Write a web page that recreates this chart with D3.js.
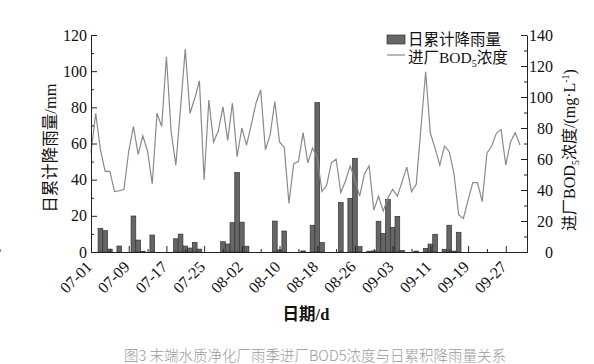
<!DOCTYPE html>
<html>
<head>
<meta charset="utf-8">
<script src="https://cdn.jsdelivr.net/npm/d3@7"></script>
<style>
	body { margin: 0; background: #fff; overflow: hidden; }
	svg { display: block; }
	svg text { font-family: "Liberation Serif", "Noto Sans CJK SC", serif; fill: #111; }
</style>
</head>
<body>
<div id="chart"></div>
<script>
'use strict';

// daily values from 07-01 to 09-30
var startDay = '2020-07-01';
var tickLabels = ['07-01', '07-09', '07-17', '07-25', '08-02', '08-10',
	'08-18', '08-26', '09-03', '09-11', '09-19', '09-27'];
var rainTicks = [0, 20, 40, 60, 80, 100, 120];
var bodTicks = [0, 20, 40, 60, 80, 100, 120, 140];

// 日累计降雨量 (mm)
var rainfall = [0, 0, 13.1, 11.8, 1.6, 0, 3.3, 0, 0, 19.9,
	6.6, 0.4, 0, 9.4, 0, 0, 0, 0, 7.3, 9.9,
	3.3, 2.2, 5.3, 1.6, 0, 0, 0, 0, 5.7, 4.4,
	16.2, 44, 16.5, 3.2, 0, 0, 0, 0, 0, 17.1,
	1.2, 11.6, 0, 0, 0, 0.6, 0, 14.8, 82.6, 5.2,
	0, 0, 0, 27.3, 0, 29.7, 51.8, 3, 0, 0.4,
	0.6, 17, 10.2, 29, 13.6, 19.7, 0.8, 0, 0, 0.5,
	0, 2, 4.4, 9.8, 0, 1.5, 14.8, 0.5, 10.9, 0,
	0, 0, 0, 0, 0, 0, 0, 0, 0, 0,
	0, 0];

// 进厂BOD5浓度 (mg/L)
var bod = [64, 89.5, 66, 52, 52, 39, 39.5, 40.5, 65, 81,
	63, 75, 65, 44, 89.5, 81, 126, 77.6, 56, 93,
	131, 89.5, 99, 110.5, 46.5, 98, 71, 78, 93.7, 72,
	96, 61.5, 80, 69, 82, 96, 104.5, 66, 75.5, 97,
	71, 67.5, 31.4, 57, 58.3, 77, 57.5, 67, 61, 39,
	43, 57.6, 60, 38.3, 46, 55.5, 46.5, 36, 50.3, 55.5,
	27, 36, 26.5, 35, 40.4, 36, 45.4, 54.8, 39, 43.7,
	80, 116.3, 76.6, 67, 56, 68.4, 64.7, 50.8, 24, 21.7,
	33.5, 44.7, 44.7, 32.5, 63.7, 68.4, 76.6, 79, 56, 71,
	77, 69];

InitChart();

function InitChart() {
	// constants
	var WIDTH = 594,
		HEIGHT = 364,
		LEFT = 91,
		RIGHT = 527,
		TOP = 35,
		BOTTOM = 252;

	var t0 = d3.utcParse('%Y-%m-%d')(startDay);
	var dates = bod.map(function(d, i) { return d3.utcDay.offset(t0, i); });

	var x = d3.scaleUtc()
		.domain([t0, d3.utcHour.offset(t0, 92.5 * 24)])
		.range([LEFT, RIGHT]);
	var yRain = d3.scaleLinear().domain([0, 120]).range([BOTTOM, TOP]);
	var yBod = d3.scaleLinear().domain([0, 140]).range([BOTTOM, TOP]);

	var svg = d3.select('#chart').append('svg')
		.attr('width', WIDTH)
		.attr('height', HEIGHT);

	// rain bars
	var bw = x(dates[1]) - x(dates[0]);
	svg.append('g')
		.selectAll('rect')
		.data(rainfall.map(function(v, i) { return { date: dates[i], value: v }; })
			.filter(function(d) { return d.value > 0; }))
		.enter().append('rect')
			.attr('x', function(d) { return x(d.date) - bw / 2; })
			.attr('y', function(d) { return yRain(d.value); })
			.attr('width', bw)
			.attr('height', function(d) { return yRain(0) - yRain(d.value); })
			.attr('fill', '#666')
			.attr('stroke', '#333')
			.attr('stroke-width', 0.7);

	// BOD line
	var line = d3.line()
		.x(function(d, i) { return x(dates[i]); })
		.y(function(d) { return yBod(d); });

	svg.append('path')
		.datum(bod)
		.attr('d', line)
		.attr('fill', 'none')
		.attr('stroke', '#8a8a8a')
		.attr('stroke-width', 1.2);

	// left axis
	svg.append('g')
		.attr('transform', 'translate(' + LEFT + ',0)')
		.call(d3.axisLeft(yRain).tickValues(rainTicks)
			.tickSizeInner(-6).tickSizeOuter(0).tickPadding(4));
	svg.append('g')
		.attr('transform', 'translate(' + LEFT + ',0)')
		.call(d3.axisLeft(yRain).tickValues([10, 30, 50, 70, 90, 110])
			.tickSizeInner(-3).tickSizeOuter(0).tickFormat(''))
		.select('.domain').remove();

	// right axis
	var rightAxis = svg.append('g')
		.attr('transform', 'translate(' + RIGHT + ',0)')
		.call(d3.axisRight(yBod).tickValues(bodTicks)
			.tickSizeInner(-6).tickSizeOuter(0));
	rightAxis.selectAll('text')
		.attr('x', 26)
		.attr('text-anchor', 'end');
	svg.append('g')
		.attr('transform', 'translate(' + RIGHT + ',0)')
		.call(d3.axisRight(yBod).tickValues([10, 30, 50, 70, 90, 110, 130])
			.tickSizeInner(-3).tickSizeOuter(0).tickFormat(''))
		.select('.domain').remove();

	// bottom axis, labels drawn separately so they can be slanted
	var majorDates = tickLabels.map(function(d, i) { return dates[i * 8]; });
	var minorDates = tickLabels.map(function(d, i) { return dates[i * 8 + 4]; });
	svg.append('g')
		.attr('transform', 'translate(0,' + BOTTOM + ')')
		.call(d3.axisBottom(x).tickValues(majorDates)
			.tickSizeInner(-6).tickSizeOuter(0).tickFormat(''));
	svg.append('g')
		.attr('transform', 'translate(0,' + BOTTOM + ')')
		.call(d3.axisBottom(x).tickValues(minorDates)
			.tickSizeInner(-3).tickSizeOuter(0).tickFormat(''))
		.select('.domain').remove();

	svg.append('g')
		.selectAll('text')
		.data(tickLabels)
		.enter().append('text')
			.attr('transform', function(d, i) {
				return 'translate(' + (x(majorDates[i]) - 2) + ',' + (BOTTOM + 12) + ') rotate(-45)';
			})
			.attr('dy', '0.35em')
			.attr('text-anchor', 'end')
			.style('font-size', '16px')
			.text(function(d) { return d; });

	svg.selectAll('.domain, .tick line')
		.attr('stroke', '#222')
		.attr('stroke-width', 1);
	svg.selectAll('.tick text')
		.style('font-family', '"Liberation Serif", serif')
		.style('font-size', '16px')
		.attr('fill', '#111');

	// axis titles
	svg.append('text')
		.attr('transform', 'translate(56,148) rotate(-90)')
		.attr('text-anchor', 'middle')
		.style('font-size', '16.5px')
		.text('日累计降雨量/mm');

	var rt = svg.append('text')
		.attr('transform', 'translate(575,150) rotate(-90)')
		.attr('text-anchor', 'middle')
		.style('font-size', '16px');
	rt.append('tspan').text('进厂BOD');
	rt.append('tspan').attr('dy', 4).style('font-size', '10px').text('5');
	rt.append('tspan').attr('dy', -4).text('浓度/(mg·L');
	rt.append('tspan').attr('dy', -6).style('font-size', '10px').text('-1');
	rt.append('tspan').attr('dy', 6).text(')');

	svg.append('text')
		.attr('x', 306)
		.attr('y', 320)
		.attr('text-anchor', 'middle')
		.style('font-size', '16.5px')
		.style('font-weight', 'bold')
		.text('日期/d');

	// legend
	svg.append('rect')
		.attr('x', 387)
		.attr('y', 35)
		.attr('width', 18)
		.attr('height', 9)
		.attr('fill', '#666')
		.attr('stroke', '#333')
		.attr('stroke-width', 0.7);
	svg.append('text')
		.attr('x', 408)
		.attr('y', 45)
		.style('font-size', '15.5px')
		.text('日累计降雨量');
	svg.append('line')
		.attr('x1', 387)
		.attr('x2', 405)
		.attr('y1', 55)
		.attr('y2', 55)
		.attr('stroke', '#8a8a8a')
		.attr('stroke-width', 1.2);
	var lt = svg.append('text')
		.attr('x', 408)
		.attr('y', 63)
		.style('font-size', '15.5px');
	lt.append('tspan').text('进厂BOD');
	lt.append('tspan').attr('dy', 4).style('font-size', '10px').text('5');
	lt.append('tspan').attr('dy', -4).text('浓度');

	// caption
	svg.append('text')
		.attr('x', 315)
		.attr('y', 361)
		.attr('text-anchor', 'middle')
		.style('font-family', '"Noto Sans CJK SC", sans-serif')
		.style('font-size', '14.5px')
		.style('font-weight', 300)
		.style('fill', '#999')
		.text('图3 末端水质净化厂雨季进厂BOD5浓度与日累积降雨量关系');
}
</script>
</body>
</html>
